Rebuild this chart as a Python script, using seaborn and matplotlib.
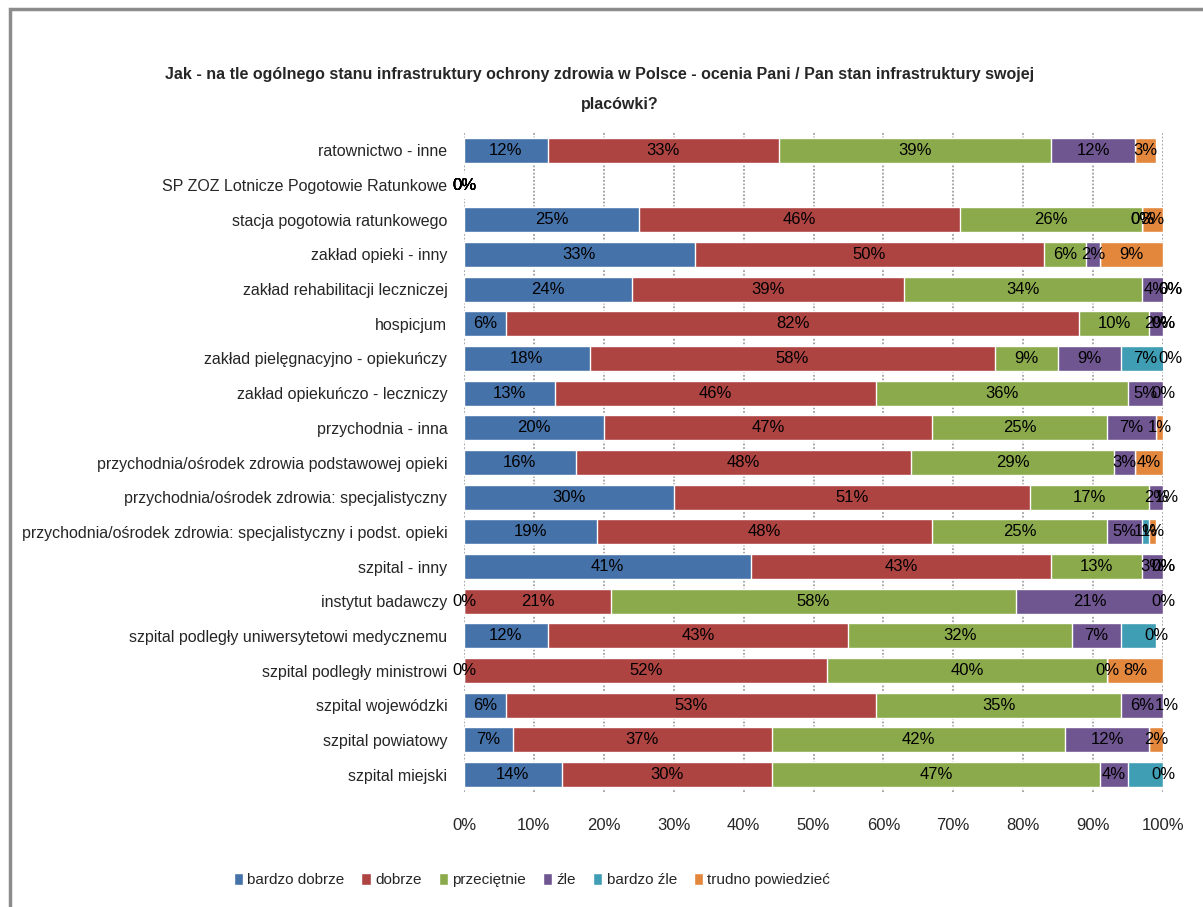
import numpy as np
import pandas as pd
import seaborn as sns
import matplotlib.pyplot as plt
from matplotlib.patches import Patch, Rectangle

nan = np.nan

kategorie = [
    'ratownictwo - inne',
    'SP ZOZ Lotnicze Pogotowie Ratunkowe',
    'stacja pogotowia ratunkowego',
    'zakład opieki - inny',
    'zakład rehabilitacji leczniczej',
    'hospicjum',
    'zakład pielęgnacyjno - opiekuńczy',
    'zakład opiekuńczo - leczniczy',
    'przychodnia - inna',
    'przychodnia/ośrodek zdrowia podstawowej opieki',
    'przychodnia/ośrodek zdrowia: specjalistyczny',
    'przychodnia/ośrodek zdrowia: specjalistyczny i podst. opieki',
    'szpital - inny',
    'instytut badawczy',
    'szpital podległy uniwersytetowi medycznemu',
    'szpital podległy ministrowi',
    'szpital wojewódzki',
    'szpital powiatowy',
    'szpital miejski',
]

bardzo_dobrze = [12, 0, 25, 33, 24, 6, 18, 13, 20, 16, 30, 19, 41, 0, 12, 0, 6, 7, 14]
dobrze = [33, 0, 46, 50, 39, 82, 58, 46, 47, 48, 51, 48, 43, 21, 43, 52, 53, 37, 30]
przecietnie = [39, 0, 26, 6, 34, 10, 9, 36, 25, 29, 17, 25, 13, 58, 32, 40, 35, 42, 47]
zle = [12, 0, 0, 2, 4, 2, 9, 5, 7, 3, 2, 5, 3, 21, 7, 0, 6, 12, 4]
bardzo_zle = [nan, 0, 0, nan, 0, 0, 7, nan, nan, nan, nan, 1, 0, nan, 5, nan, nan, nan, 5]
trudno = [3, 0, 3, 9, 0, 0, 0, 0, 1, 4, 1, 1, 0, 0, 0, 8, 1, 2, 0]

serie = ['bardzo dobrze', 'dobrze', 'przeciętnie', 'źle', 'bardzo źle', 'trudno powiedzieć']
kolory = ['#4672AA', '#AE4441', '#8BAA4B', '#6F5691', '#3F9DB4', '#E3873D']

# etykiety, których nie widać na oryginale (wiersz, seria)
bez_etykiety = [(14, 4), (18, 4)]

df = pd.DataFrame(
    [bardzo_dobrze, dobrze, przecietnie, zle, bardzo_zle, trudno],
    index=serie, columns=kategorie
).T
wart = df.fillna(0)
skum = wart.cumsum(axis=1)

sns.set_style('white')
plt.rcParams['font.family'] = ['Liberation Sans', 'DejaVu Sans']

fig = plt.figure(figsize=(12.03, 9.07), dpi=100)
ax = fig.add_axes([464 / 1203, 1 - 792 / 907, 699 / 1203, 659 / 907])

# skumulowane słupki, od najdłuższego
for s, k in reversed(list(zip(serie, kolory))):
    sns.barplot(x=skum[s].values, y=kategorie, color=k, orient='h',
                width=0.72, ax=ax, saturation=1, zorder=2)

# etykiety wartości
for i, kat in enumerate(kategorie):
    for j, s in enumerate(serie):
        v = df.loc[kat, s]
        if np.isnan(v) or (i, j) in bez_etykiety:
            continue
        xc = skum.loc[kat, s] - wart.loc[kat, s] / 2
        ax.text(xc, i, f'{int(v)}%', ha='center', va='center',
                fontsize=12, color='black', zorder=5)

ax.set_xlim(0, 100)
ax.set_ylim(len(kategorie) - 0.5, -0.5)
ax.set_xticks(range(0, 101, 10))
ax.set_xticklabels([f'{t}%' for t in range(0, 101, 10)], fontsize=12)
ax.tick_params(axis='x', length=0, pad=19)
ax.tick_params(axis='y', length=0, pad=12, labelsize=11.5)
ax.set_xlabel('')
ax.set_ylabel('')
for t in range(0, 101, 10):
    ax.axvline(t, color='#a0a0a0', linestyle=(0, (1, 1)), linewidth=1.3, zorder=1)
for sp in ax.spines.values():
    sp.set_visible(False)

fig.text(600 / 1203, 1 - 75 / 907,
         'Jak - na tle ogólnego stanu infrastruktury ochrony zdrowia w Polsce - '
         'ocenia Pani / Pan stan infrastruktury swojej',
         ha='center', va='center', fontsize=11.5, fontweight='bold')
fig.text(620 / 1203, 1 - 105 / 907, 'placówki?', ha='center', va='center',
         fontsize=11.5, fontweight='bold')

uchwyty = [Patch(facecolor=k, label=s) for s, k in zip(serie, kolory)]
fig.legend(handles=uchwyty, loc='center', bbox_to_anchor=(532 / 1203, 1 - 880 / 907),
           ncol=6, frameon=False, fontsize=11, handlelength=0.6, handleheight=0.9,
           handletextpad=0.3, columnspacing=1.1)

fig.patches.append(Rectangle((10 / 1203, -0.1), 1.2, 1 - 9 / 907 + 0.1,
                             transform=fig.transFigure, fill=False,
                             edgecolor='#8c8c8c', linewidth=2.5))

fig.savefig('out.png', dpi=100)
